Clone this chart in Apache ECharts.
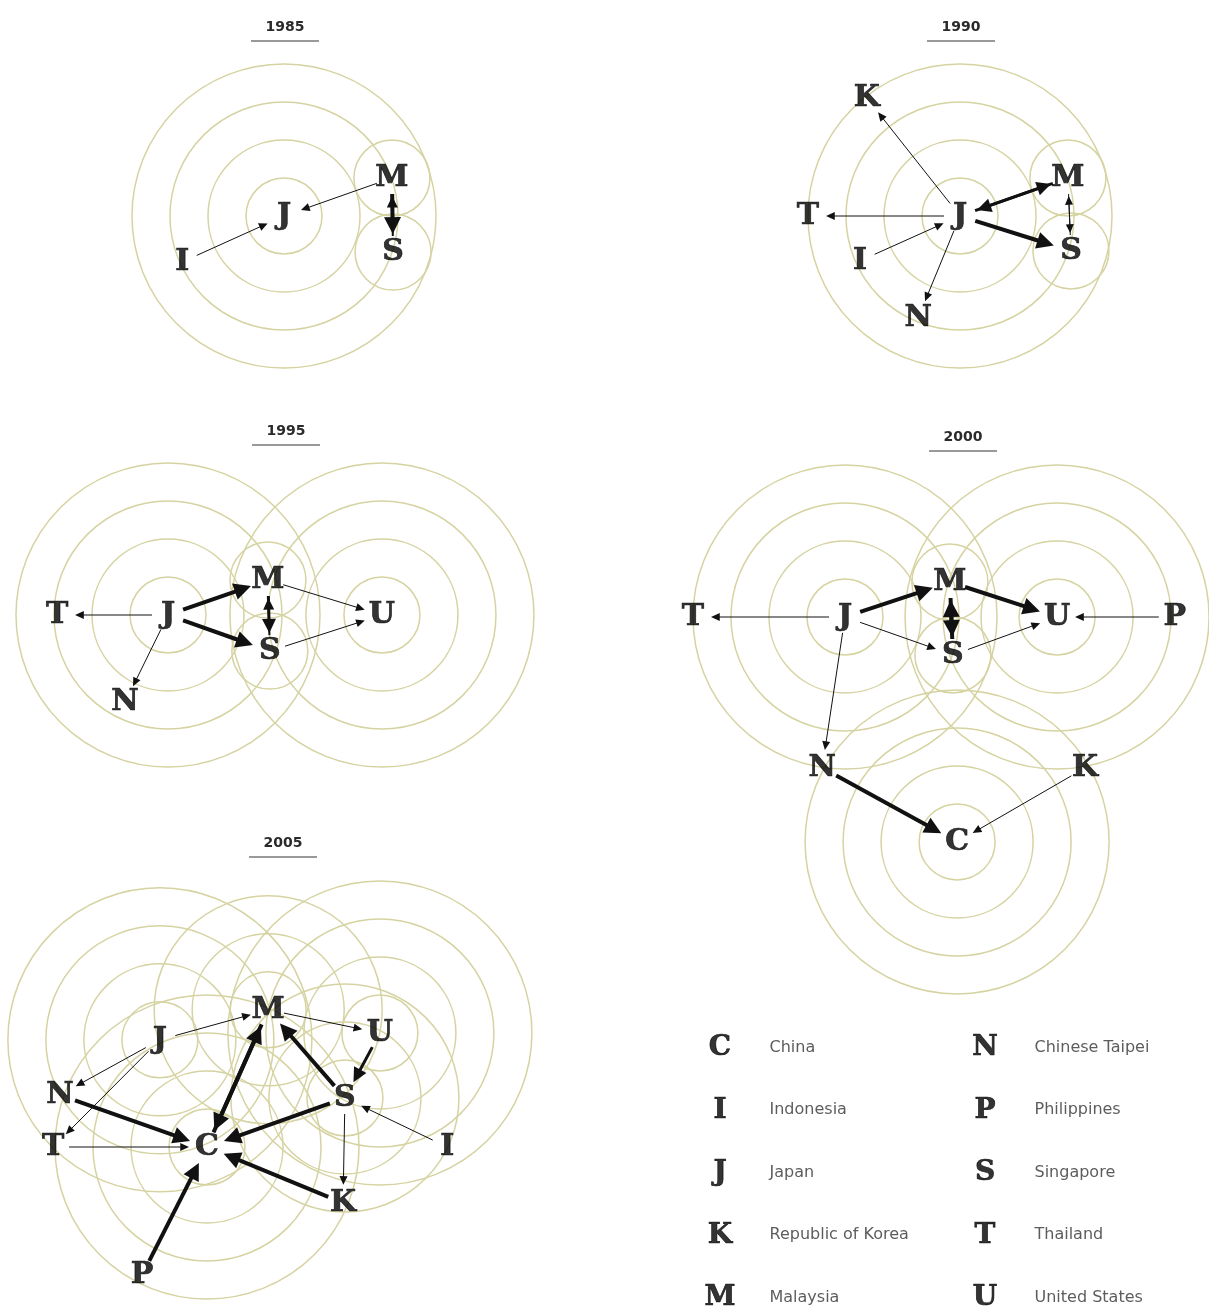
<!DOCTYPE html>
<html><head><meta charset="utf-8">
<script src="https://cdn.jsdelivr.net/npm/echarts@6/dist/echarts.min.js"></script>
<style>html,body{margin:0;padding:0;background:#fff}#c{width:1209px;height:1312px}</style>
</head><body><div id="c"></div><script>
// ---------------- DATA ----------------
const years = ['1985', '1990', '1995', '2000', '2005'];
// node: [letter, x, y, number of rings]  (layout units, 1 unit = one ring step)
const nodes1985 = [['J',0,0,4],['M',2.84,1.0,1],['S',2.87,-0.95,1],['I',-2.68,-1.21,0]];
const nodes1990 = [['J',0,0,4],['M',2.84,1.0,1],['S',2.92,-0.92,1],['K',-2.45,3.1,0],['T',-4.0,0,0],['I',-2.63,-1.18,0],['N',-1.1,-2.68,0]];
const nodes1995 = [['J',0,0,4],['U',5.63,0,4],['M',2.63,0.92,1],['S',2.68,-0.95,1],['T',-2.92,0,0],['N',-1.13,-2.3,0]];
const nodes2000 = [['J',0,0,4],['U',5.58,0,4],['C',2.95,-5.92,4],['M',2.76,0.92,1],['S',2.84,-1.0,1],['T',-4.0,0,0],['P',8.68,0,0],['N',-0.6,-3.97,0],['K',6.32,-3.97,0]];
const nodes2005 = [['C',0,0,4],['J',-1.24,2.82,4],['U',4.55,3.0,4],['M',1.61,3.61,3],['S',3.63,1.29,3],['N',-3.87,1.37,0],['T',-4.05,0,0],['I',6.32,0,0],['K',3.58,-1.47,0],['P',-1.71,-3.37,0]];
// edge: [from, to, weight]
const edges1985 = [['I','J',1],['M','J',1],['M','S',4],['S','M',2]];
const edges1990 = [['J','K',1],['J','T',1],['I','J',1],['J','N',1],['J','M',3],['M','J',3],['J','S',4],['M','S',1],['S','M',1]];
const edges1995 = [['J','T',1],['J','M',4],['J','S',4],['J','N',1],['M','S',3],['S','M',2],['M','U',1],['S','U',1]];
const edges2000 = [['J','T',1],['J','M',4],['J','S',1],['J','N',1],['M','S',4],['S','M',4],['M','U',4],['S','U',1],['P','U',1],['N','C',4],['K','C',1]];
const edges2005 = [['J','M',1],['J','N',1],['J','T',1],['M','U',1],['U','S',3],['S','M',4],['M','C',4],['C','M',4],['N','C',4],['T','C',1],['S','C',4],['K','C',4],['P','C',4],['I','S',1],['S','K',1]];
const legendLetters = ['C','I','J','K','M','N','P','S','T','U'];
const legendNames = ['China','Indonesia','Japan','Republic of Korea','Malaysia','Chinese Taipei','Philippines','Singapore','Thailand','United States'];

// ---------------- LAYOUT / STYLE ----------------
const UNIT = 38;
const RING = '#d6d3a2';
const INK = '#000000';
const LETTER_FONT = 'DejaVu Serif';
const panels = [
  {nodes: nodes1985, edges: edges1985, ox: 284, oy: 216, x: [-5, 5], y: [-5, 5], tx: 285, ty: 27},
  {nodes: nodes1990, edges: edges1990, ox: 960, oy: 216, x: [-5, 5], y: [-5, 5], tx: 961, ty: 27},
  {nodes: nodes1995, edges: edges1995, ox: 168, oy: 615, x: [-4, 10], y: [-4.5, 4.5], tx: 286, ty: 431},
  {nodes: nodes2000, edges: edges2000, ox: 845, oy: 617, x: [-4.5, 9.5], y: [-10, 4.5], tx: 963, ty: 437},
  {nodes: nodes2005, edges: edges2005, ox: 207, oy: 1147, x: [-5, 7.5], y: [-4, 7.5], tx: 283, ty: 843}
];

const grid = [], xAxis = [], yAxis = [], series = [], graphic = [];
const hiddenAxis = (min, max, idx, inverse) => ({type: 'value', min, max, gridIndex: idx, show: false, inverse: !!inverse, splitLine: {show: false}});
const letterLabel = (size) => ({show: true, position: 'inside', formatter: '{b}', fontFamily: LETTER_FONT, fontWeight: 'bold', fontSize: size, color: INK, textBorderColor: INK, textBorderWidth: 0.7});

function ringItem(params, api) {
  const c = api.coord([api.value(0), api.value(1)]);
  const n = api.value(2);
  const children = [];
  for (let k = 1; k <= n; k++) {
    const r = api.size([k, 0])[0];
    children.push({type: 'circle', shape: {cx: c[0], cy: c[1], r}, style: {fill: 'none', stroke: RING, lineWidth: 1.5}});
  }
  return {type: 'group', children};
}
function edgeItem(params, api) {
  const a = api.coord([api.value(0), api.value(1)]);
  const b = api.coord([api.value(2), api.value(3)]);
  const w = api.value(4);
  const dx = b[0] - a[0], dy = b[1] - a[1], len = Math.hypot(dx, dy);
  const ux = dx / len, uy = dy / len, nx = -uy, ny = ux;
  const g0 = 16, g1 = 18;
  const s = [a[0] + ux * g0, a[1] + uy * g0];
  const tip = [b[0] - ux * g1, b[1] - uy * g1];
  const L = 6 + 2.75 * w, hw = 2.5 + 1.5 * w;
  const base = [tip[0] - ux * L, tip[1] - uy * L];
  return {type: 'group', children: [
    {type: 'line', shape: {x1: s[0], y1: s[1], x2: base[0] + ux, y2: base[1] + uy}, style: {stroke: '#111', lineWidth: w}},
    {type: 'polygon', shape: {points: [tip, [base[0] + nx * hw, base[1] + ny * hw], [base[0] - nx * hw, base[1] - ny * hw]]}, style: {fill: '#111'}}
  ]};
}

panels.forEach((p, i) => {
  grid.push({left: p.ox + p.x[0] * UNIT, top: p.oy - p.y[1] * UNIT, width: (p.x[1] - p.x[0]) * UNIT, height: (p.y[1] - p.y[0]) * UNIT, containLabel: false});
  xAxis.push(hiddenAxis(p.x[0], p.x[1], i));
  yAxis.push(hiddenAxis(p.y[0], p.y[1], i));
  const pos = {};
  p.nodes.forEach(n => { pos[n[0]] = [n[1], n[2]]; });
  series.push({
    type: 'custom', xAxisIndex: i, yAxisIndex: i, clip: false, silent: true, z: 1,
    renderItem: ringItem, encode: {x: 0, y: 1},
    data: p.nodes.filter(n => n[3] > 0).map(n => [n[1], n[2], n[3]])
  });
  series.push({
    type: 'custom', xAxisIndex: i, yAxisIndex: i, clip: false, silent: true, z: 3,
    renderItem: edgeItem, encode: {x: [0, 2], y: [1, 3]},
    data: p.edges.map(e => [pos[e[0]][0], pos[e[0]][1], pos[e[1]][0], pos[e[1]][1], e[2]])
  });
  series.push({
    type: 'scatter', xAxisIndex: i, yAxisIndex: i, clip: false, silent: true, z: 4,
    symbolSize: 1, itemStyle: {color: 'rgba(0,0,0,0)'},
    label: letterLabel(30),
    data: p.nodes.map(n => ({name: n[0], value: [n[1], n[2]]}))
  });
  graphic.push({type: 'text', x: p.tx, y: p.ty, silent: true,
    style: {text: years[i], align: 'center', verticalAlign: 'middle', textAlign: 'center', textVerticalAlign: 'middle', font: 'bold 14px "DejaVu Sans"', fill: '#2a2a2a'}});
  graphic.push({type: 'line', silent: true, shape: {x1: p.tx - 34, y1: p.ty + 14, x2: p.tx + 34, y2: p.ty + 14}, style: {stroke: '#777', lineWidth: 1.3}});
});

// legend grid
const li = panels.length;
grid.push({left: 720, top: 1048, width: 265, height: 250, containLabel: false});
xAxis.push(hiddenAxis(0, 1, li));
yAxis.push(hiddenAxis(0, 4, li, true));
const legendPts = legendLetters.map((l, k) => [k < 5 ? 0 : 1, k % 5]);
series.push({
  type: 'scatter', xAxisIndex: li, yAxisIndex: li, clip: false, silent: true, symbolSize: 1, itemStyle: {color: 'rgba(0,0,0,0)'},
  label: letterLabel(28),
  data: legendLetters.map((l, k) => ({name: l, value: legendPts[k]}))
});
series.push({
  type: 'scatter', xAxisIndex: li, yAxisIndex: li, clip: false, silent: true, symbolSize: 1, itemStyle: {color: 'rgba(0,0,0,0)'},
  label: {show: true, position: [50, 0], align: 'left', verticalAlign: 'middle', formatter: '{b}', fontFamily: 'DejaVu Sans', fontSize: 16, color: '#333'},
  data: legendNames.map((l, k) => ({name: l, value: legendPts[k]}))
});

const chart = echarts.init(document.getElementById('c'), null, {renderer: 'canvas'});
chart.setOption({backgroundColor: '#ffffff', animation: false, grid, xAxis, yAxis, series, graphic});
</script></body></html>
